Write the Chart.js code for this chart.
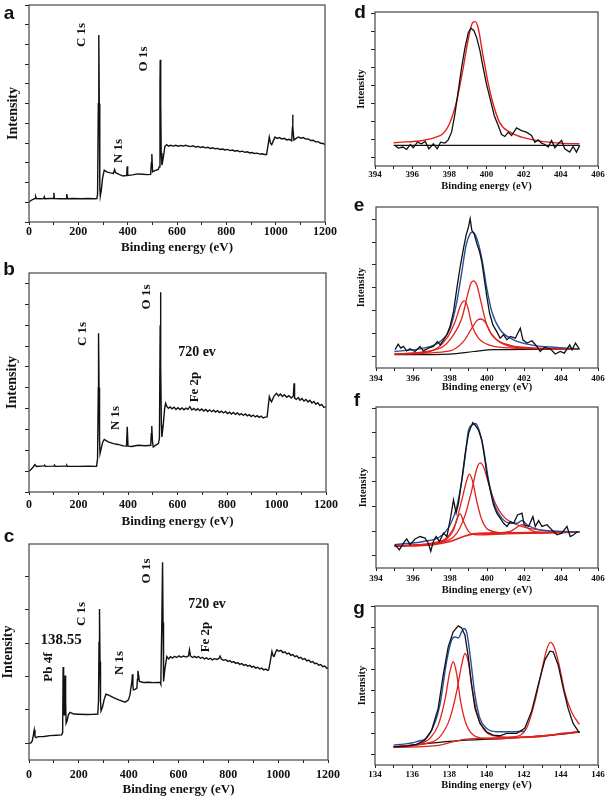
<!DOCTYPE html>
<html>
<head>
<meta charset="utf-8">
<script src="https://cdn.jsdelivr.net/npm/chart.js@4.4.0/dist/chart.umd.min.js"></script>
<style>
body { margin:0; background:#fff; width:609px; height:797px; position:relative; overflow:hidden; font-family:'Liberation Serif', serif; }
canvas { position:absolute; }
.t { position:absolute; font-weight:bold; color:#111; white-space:nowrap; line-height:1; transform:translate(-50%,-50%); }
.r { transform:translate(-50%,-50%) rotate(-90deg); font-size:13px; }
.h { font-size:14px; }
.p { font-family:'Liberation Sans', Arial, sans-serif; font-size:19px; }
</style>
</head>
<body>
<canvas id="ca" width="339" height="255" style="left:0px;top:0px"></canvas>
<canvas id="cb" width="343" height="267" style="left:0px;top:262px"></canvas>
<canvas id="cc" width="347" height="263" style="left:0px;top:534px"></canvas>
<canvas id="cd" width="260" height="189" style="left:348px;top:4px"></canvas>
<canvas id="ce" width="260" height="195" style="left:348px;top:199px"></canvas>
<canvas id="cf" width="260" height="198" style="left:348px;top:399px"></canvas>
<canvas id="cg" width="260" height="194" style="left:348px;top:598px"></canvas>

<!-- panel letters -->
<div class="t p" style="left:9px;top:12px">a</div>
<div class="t p" style="left:9px;top:268px">b</div>
<div class="t p" style="left:9px;top:535px">c</div>
<div class="t p" style="left:360px;top:11px">d</div>
<div class="t p" style="left:359px;top:204px">e</div>
<div class="t p" style="left:357px;top:399px">f</div>
<div class="t p" style="left:359px;top:607px">g</div>

<!-- peak labels, survey a -->
<div class="t r" style="left:80px;top:35px">C 1s</div>
<div class="t r" style="left:142px;top:59px">O 1s</div>
<div class="t r" style="left:117px;top:151px">N 1s</div>
<!-- survey b -->
<div class="t r" style="left:81px;top:334px">C 1s</div>
<div class="t r" style="left:145px;top:297px">O 1s</div>
<div class="t r" style="left:114px;top:418px">N 1s</div>
<div class="t h" style="left:197px;top:352px">720 ev</div>
<div class="t r" style="left:193px;top:387px">Fe 2p</div>
<!-- survey c -->
<div class="t r" style="left:80px;top:614px">C 1s</div>
<div class="t r" style="left:145px;top:571px">O 1s</div>
<div class="t r" style="left:118px;top:663px">N 1s</div>
<div class="t r" style="left:47px;top:667px">Pb 4f</div>
<div class="t h" style="left:61px;top:639px;font-size:15px">138.55</div>
<div class="t h" style="left:207px;top:604px">720 ev</div>
<div class="t r" style="left:204px;top:637px">Fe 2p</div>

<script>
// Survey spectra: [binding energy (eV), intensity (a.u.)]
const surveyA = [[0,10.1],[8,10.9],[18,11.6],[25,11.9],[27,12.9],[30,11.9],[45,11.8],[60,11.9],[62,12.8],[65,11.8],[85,11.9],[99,11.9],[101,14.8],[103,11.9],[125,11.8],[150,11.8],[153,14.2],[156,11.8],[180,11.9],[210,11.8],[240,11.9],[265,11.8],[275,11.9],[278,14],[281,60],[283,94.8],[285,60],[287,18],[289,13.1],[293,16],[298,22],[305,26.3],[315,25.4],[330,24.9],[342,24.6],[347,26.6],[351,25],[365,24.1],[382,23.3],[396,23.6],[398,28.3],[400,23.6],[420,23.9],[440,24.4],[460,24.2],[480,24.0],[493,24.1],[496,30],[498,34.5],[501,25.4],[510,26],[524,26.6],[528,28],[531,70],[532,82.2],[534,60],[536,35],[539,28.8],[545,33],[551,38.4],[558,39.2],[566,38.4],[575,38.9],[585,38.5],[595,38.9],[605,38.4],[615,38.8],[625,38.5],[635,38.9],[645,38.5],[655,38.2],[665,38.6],[675,38.0],[685,38.3],[695,37.8],[705,38.1],[715,37.6],[725,37.9],[735,37.3],[745,37.6],[755,37.1],[765,37.3],[775,36.8],[785,37.0],[795,36.5],[805,36.8],[815,36.2],[825,36.5],[835,35.9],[845,36.2],[855,35.6],[865,35.9],[875,35.3],[885,35.6],[895,35.0],[905,35.2],[915,34.7],[925,34.9],[935,34.4],[945,34.6],[955,34.2],[963,34.2],[968,38],[974,43.1],[979,40],[984,39.2],[990,41],[997,43.1],[1005,42.4],[1015,42.8],[1025,42.1],[1035,42.4],[1045,41.6],[1055,41.9],[1065,41.2],[1068,48],[1069,54.4],[1070,48],[1074,41.6],[1083,42.4],[1092,43.1],[1102,42.5],[1112,42.8],[1122,42.0],[1132,42.1],[1142,41.3],[1152,41.4],[1162,40.6],[1172,40.7],[1182,39.9],[1192,39.8],[1200,39.2]];

const surveyB = [[0,9.9],[10,11],[17,12.0],[24,13.1],[30,12.2],[60,12.5],[63,12.9],[66,12.3],[100,12.4],[103,12.9],[106,12.3],[150,12.4],[153,12.8],[156,12.3],[200,12.3],[240,12.4],[273,12.3],[277,16],[280,50],[281,76.1],[283,50],[285,25],[287,18.4],[292,21],[298,24],[304,25.2],[320,24],[341,23.2],[360,22.8],[381,22.1],[394,22],[397,31.3],[400,22],[415,21.8],[440,22.4],[470,22.2],[492,22.4],[494,28],[496,31.6],[499,24],[502,21.6],[512,22.5],[523,23.2],[527,26],[530,80],[531,95.8],[533,60],[535,32],[537,26.4],[543,33],[548,40],[552,42.5],[557,41],[563,40.1],[570,40.8],[578,39.9],[586,40.7],[594,39.6],[602,40.4],[610,39.5],[618,40.3],[626,39.4],[634,40.2],[642,39.6],[650,40.9],[658,39.3],[666,40.1],[674,39.2],[682,39.9],[690,39.0],[698,39.8],[706,38.8],[714,39.6],[722,38.6],[730,39.4],[738,38.5],[746,39.2],[754,38.3],[762,39.0],[770,38.1],[778,38.8],[786,37.9],[794,38.6],[802,37.6],[810,38.3],[818,37.4],[826,38.1],[834,37.2],[842,37.9],[850,37.0],[858,37.6],[866,36.7],[874,37.4],[882,36.5],[890,37.1],[898,36.2],[906,36.9],[914,36.0],[922,36.6],[930,35.8],[938,36.4],[946,35.5],[954,35.9],[962,36],[971,45.7],[976,44],[980,43.3],[990,46],[1000,47.3],[1008,46.1],[1016,47.0],[1024,45.8],[1032,46.6],[1041,45.4],[1050,46.2],[1060,45.1],[1068,46],[1071,52.1],[1073,45],[1080,44.4],[1088,45.3],[1095,44.0],[1103,44.8],[1111,43.6],[1119,44.4],[1127,43.2],[1135,44.0],[1143,42.7],[1151,43.4],[1159,42.1],[1167,42.8],[1175,41.4],[1183,42.0],[1191,40.6],[1200,40.8]];

const surveyC = [[0,8.5],[8,8.7],[13,9.7],[18,13],[21,15.3],[24,12],[28,11.4],[37,11.9],[60,12],[84,12.4],[110,12.6],[131,12.8],[135,14],[137,47.3],[139,35],[141,23],[143,30],[145,43],[147,30],[149,18.7],[153,20],[158,23],[165,24.3],[180,23.4],[200,23.3],[230,23.2],[260,23.3],[276,23.4],[279,30],[281,60],[283,76.9],[285,50],[287,30],[289,25],[295,27],[302,31],[309,33.5],[320,33],[339,31.8],[360,30.6],[386,29.4],[392,30],[399,30.6],[405,33],[413,40],[415,43.7],[417,38],[419,35.7],[426,36],[433,36.6],[435,41],[437,45.4],[440,43],[443,40],[460,39.5],[480,39.6],[500,39.4],[526,39.6],[529,38.6],[533,70],[536,100.7],[538,70],[540,40],[545,46],[553,52.7],[560,51.5],[568,52.6],[576,51.9],[584,52.8],[593,52.2],[602,53.0],[610,52.3],[620,52.9],[630,52.4],[640,53],[644,56.1],[648,53],[656,52.2],[664,52.8],[672,52.1],[680,52.7],[688,51.8],[696,52.3],[704,51.5],[712,52.0],[720,51.3],[728,51.8],[736,51.0],[744,51.6],[754,51.2],[762,51.7],[767,52.9],[772,51.4],[780,50.8],[790,51.1],[798,50.2],[806,50.6],[814,49.7],[822,50.1],[830,49.2],[838,49.6],[846,48.7],[854,49.1],[862,48.2],[870,48.6],[878,47.8],[886,48.2],[894,47.3],[902,47.7],[910,46.8],[918,47.2],[926,46.4],[934,46.8],[942,45.9],[950,46.3],[958,45.6],[962,45.9],[968,50],[975,55.3],[980,53],[984,52.8],[990,55],[995,56.1],[1003,55.4],[1011,55.8],[1019,54.7],[1027,55.1],[1035,54.0],[1043,54.4],[1051,53.3],[1059,53.7],[1067,52.6],[1075,53.0],[1083,51.9],[1091,52.3],[1099,51.2],[1107,51.6],[1115,50.5],[1123,50.9],[1131,49.8],[1139,50.1],[1147,49.0],[1155,49.3],[1163,48.3],[1171,48.6],[1179,47.5],[1187,47.8],[1195,46.7],[1200,46.9]];

// N 1s high resolution (d, e, f) and Pb 4f (g): [eV, intensity]
const n1sD = [[395.08,11.5],[395.25,10],[395.5,10.6],[395.7,9.3],[395.9,12],[396.06,10.2],[396.28,13.3],[396.5,12.4],[396.7,13.7],[396.9,9.6],[397.14,12.4],[397.35,9.6],[397.53,13.3],[397.76,12.8],[397.94,14.6],[398.12,18.9],[398.3,29],[398.48,42],[398.66,55],[398.84,66],[399.02,74.4],[399.16,76.9],[399.32,75.7],[399.47,71.7],[399.65,64.3],[399.82,55],[400,45.7],[400.22,36.5],[400.42,28.1],[400.63,22.6],[400.81,17.6],[400.99,16.5],[401.17,18.9],[401.35,17],[401.62,21.3],[401.88,19.8],[402.15,18.9],[402.42,17],[402.6,13.3],[402.78,14.6],[402.96,12.8],[403.14,12],[403.32,10.6],[403.5,14.3],[403.68,10.2],[403.86,12.4],[404.04,14.3],[404.21,9.6],[404.48,7.8],[404.66,10.9],[404.84,7.8],[405.02,11.5]];
const n1sDFit = [[395,13],[397.5,17],[398,23.5],[398.4,36.5],[398.75,55],[399,69.8],[399.25,80],[399.4,80.6],[399.55,77.2],[399.8,62.4],[400.1,45.7],[400.36,34.6],[400.7,24.4],[401.26,18.9],[401.9,16.1],[402.87,13.9],[403.95,12.8],[405,12.4]];
const n1sDBase = [[395,11.5],[405,11.5]];

const n1sE = [[395.03,8],[395.2,10.4],[395.34,8.7],[395.48,9.4],[395.66,7.5],[395.84,8.4],[396.11,7.2],[396.38,9.4],[396.56,7.5],[396.83,8.7],[397.1,9.4],[397.32,11.6],[397.47,10.1],[397.65,12.3],[397.83,14.5],[398,18.1],[398.19,24.6],[398.37,34.8],[398.55,44.2],[398.73,52.2],[398.87,58],[399,61.6],[399.09,65.2],[399.18,60.1],[399.32,58.3],[399.45,54.3],[399.6,50.7],[399.72,46.4],[399.85,39.1],[399.99,31.2],[400.14,23.9],[400.32,18.8],[400.53,15.9],[400.71,13],[400.9,14.5],[401.08,12.3],[401.26,13.8],[401.53,13],[401.8,17.4],[401.94,12.3],[402.16,10.9],[402.43,11.9],[402.7,9.4],[402.88,7.2],[403.1,9],[403.42,8.4],[403.69,6.1],[403.96,7.2],[404.18,6.5],[404.47,10.1],[404.6,8],[404.78,10.9],[404.96,8.7]];
const n1sEEnv = [[395,7.2],[396.56,8.7],[397.47,11.6],[398.01,17.4],[398.37,29],[398.64,42],[398.87,53.6],[399.09,58.7],[399.23,59.4],[399.45,56.5],[399.72,47.8],[399.99,34.8],[400.26,24.6],[400.71,16.7],[401.44,12.3],[402.52,9.9],[403.78,9],[405,8.4]];
const n1sEPeak1 = [[395,6.1],[396.92,7.2],[397.83,13],[398.28,20.3],[398.58,27.5],[398.77,29.3],[398.95,26.8],[399.18,18.8],[399.54,13],[400.17,9.9],[401.44,8.7],[405,8.3]];
const n1sEPeak2 = [[395,6.1],[397.47,8.7],[398.19,14.5],[398.64,21.7],[398.95,31.9],[399.13,37],[399.27,38],[399.45,36.2],[399.67,29],[399.99,18.8],[400.44,13],[401.26,9.9],[402.88,8.7],[405,8.3]];
const n1sEPeak3 = [[395,6.1],[398.01,7.5],[398.73,11.6],[399.18,17.4],[399.49,21],[399.69,21.4],[399.9,20],[400.26,14.5],[400.9,10.4],[401.98,8.7],[405,8.3]];
const n1sEBase = [[395,5.8],[398,6.1],[399.27,7.2],[400.35,8],[405,8.3]];

const n1sF = [[395.03,9.5],[395.26,7.4],[395.48,10.1],[395.66,11.8],[395.84,9.5],[396.11,11.8],[396.38,12.8],[396.65,12.2],[396.83,10.1],[396.96,6.8],[397.1,10.8],[397.25,12.8],[397.43,10.8],[397.65,14.2],[397.83,12.8],[398.04,20.9],[398.19,27.7],[398.33,22.3],[398.46,26.4],[398.64,35.8],[398.82,46.6],[399,54.7],[399.13,57.4],[399.23,59.1],[399.36,58.1],[399.54,56.1],[399.72,52],[399.85,45.9],[399.99,38.5],[400.17,31.8],[400.35,25.7],[400.53,22.3],[400.71,20.3],[400.9,18.2],[401.08,16.9],[401.26,18.9],[401.44,18.2],[401.65,21.6],[401.89,22.3],[402.01,17.6],[402.25,16.9],[402.48,20.9],[402.61,16.9],[402.79,19.3],[402.97,16.9],[403.24,17.6],[403.51,15.5],[403.78,13.5],[404.05,14.2],[404.32,16.9],[404.5,12.8],[404.69,13.5],[404.9,14.9]];
const n1sFEnv = [[395,9.5],[396.56,10.8],[397.47,12.8],[398.01,17.6],[398.37,25],[398.64,35.8],[398.82,45.3],[399,56.1],[399.18,58.1],[399.36,58.8],[399.54,56.8],[399.81,48.6],[400.08,35.8],[400.44,25],[400.8,20.3],[401.26,18.2],[401.62,18.2],[401.89,19.3],[402.16,17.6],[402.7,15.8],[403.78,14.9],[405,14.6]];
const n1sFPeak1 = [[395,9],[397.47,10.4],[398.19,15.5],[398.4,20.3],[398.55,22],[398.73,18.9],[399,14.9],[399.45,13.5],[401.08,13.9],[405,14.6]];
const n1sFPeak2 = [[395,9],[397.47,10.8],[398.28,17.6],[398.64,27.7],[398.91,35.8],[399.05,38.2],[399.23,35.1],[399.45,27],[399.72,19.6],[400.08,15.5],[401.08,14.2],[405,14.6]];
const n1sFPeak3 = [[395,9],[397.47,10.4],[398.37,14.2],[398.82,21.6],[399.18,31.8],[399.45,40.5],[399.63,42.8],[399.81,41.2],[400.08,34.5],[400.44,26.4],[400.9,20.9],[401.62,17.6],[402.52,15.8],[405,14.6]];
const n1sFPeak4 = [[400.17,14.2],[401.26,14.9],[401.62,16.6],[401.89,17.6],[402.12,16.6],[402.52,14.9],[403.24,14.5],[405,14.6]];
const n1sFBase = [[395,8.8],[397.1,9.5],[398.01,10.8],[398.73,12.8],[399.27,13.9],[400.17,14.2],[405,14.6]];

const pb4f = [[135,8.6],[135.7,8.9],[136.24,9.7],[136.69,11.8],[137.05,16.5],[137.4,26.7],[137.67,42.4],[137.94,55.7],[138.21,62.8],[138.48,65.6],[138.66,64.7],[138.84,61.2],[139.02,51],[139.2,37.7],[139.38,26.7],[139.65,19.6],[140,15.7],[140.36,14.1],[140.72,13.8],[141.08,14.9],[141.62,14.9],[142.06,17.3],[142.42,25.1],[142.78,37.7],[143.14,49.5],[143.41,53.7],[143.59,53.4],[143.86,47.1],[144.13,36.1],[144.39,26.7],[144.66,19.6],[145,15.2]];
const pb4fEnv = [[135,9.4],[136.24,11],[136.96,14.9],[137.49,28.3],[137.85,48.7],[138.12,58.9],[138.3,60.4],[138.48,59.9],[138.66,62.8],[138.78,64.4],[138.93,62.8],[139.14,50.2],[139.38,33],[139.65,22],[140,17.3],[140.54,15.7],[141.26,15.7],[142.06,15.9]];
const pb4fPeak1 = [[135,8.6],[136.24,9.7],[136.96,12.6],[137.4,18.8],[137.76,30.6],[138.03,44],[138.21,48.7],[138.39,43.2],[138.61,29.8],[138.93,18.8],[139.47,13.3],[140.36,12.3],[141.8,13],[143.5,14.2],[145,15.7]];
const pb4fPeak2 = [[135,8.6],[136.78,10.2],[137.49,13.3],[138.03,22],[138.39,34.5],[138.66,47.1],[138.84,52.6],[139.02,48.7],[139.2,37.7],[139.47,25.1],[139.82,17.3],[140.36,13.8],[141.44,13],[143.5,14.2],[145,15.7]];
const pb4fPeak3 = [[139.82,12.5],[141.44,13.3],[142.15,17.3],[142.6,29.8],[142.96,44],[143.23,54.2],[143.44,57.8],[143.67,55],[143.95,45.5],[144.21,34.5],[144.57,25.1],[145,19.2]];
const pb4fBaseRed = [[135,8.3],[137.5,9.4],[138.21,11],[138.93,12.2],[141.08,12.9],[142.87,13.3],[143.77,14.6],[145,15.7]];
const pb4fBaseBlack = [[135,8.6],[138.21,11.3],[141.08,12.6],[143.59,14.1],[145,15.5]];

const BLACK = '#111111';
const RED = '#e3211c';
const BLUE = '#24509e';

Chart.defaults.font.family = "'Liberation Serif', serif";
Chart.defaults.color = '#111';

// frame around the plot area
const boxPlugin = {
	id: 'box',
	afterDraw(chart) {
		const a = chart.chartArea, ctx = chart.ctx;
		ctx.save();
		ctx.strokeStyle = '#444';
		ctx.lineWidth = 1.2;
		ctx.strokeRect(a.left, a.top, a.right - a.left, a.bottom - a.top);
		ctx.restore();
	}
};

function line(data, color, width, smooth) {
	return {
		data: data,
		borderColor: color,
		borderWidth: width,
		pointRadius: 0,
		fill: false,
		tension: 0,
		cubicInterpolationMode: smooth ? 'monotone' : 'default'
	};
}

function makePanel(id, datasets, o) {
	new Chart(document.getElementById(id), {
		type: 'line',
		data: { datasets: datasets },
		options: {
			responsive: false,
			animation: false,
			devicePixelRatio: 1,
			layout: { padding: { top: o.padTop, right: o.padRight, left: 0, bottom: 0 } },
			plugins: { legend: { display: false }, tooltip: { enabled: false } },
			scales: {
				x: {
					type: 'linear',
					min: o.xMin,
					max: o.xMax,
					border: { display: false },
					grid: { drawOnChartArea: false, tickLength: 3, color: '#222' },
					ticks: {
						stepSize: o.xStep,
						autoSkip: false,
						maxRotation: 0,
						padding: o.tickPad,
						color: '#111',
						font: { size: o.tickSize, weight: 'bold' },
						callback: v => (v % o.labelEvery === 0 ? v : '')
					},
					title: {
						display: true,
						text: 'Binding energy (eV)',
						color: '#111',
						font: { size: o.titleSize, weight: 'bold' },
						padding: { top: 0, bottom: 0 }
					},
					afterFit: s => { s.height = o.xh; }
				},
				y: {
					min: 0,
					max: o.yMax,
					border: { display: false },
					grid: { drawOnChartArea: false, tickLength: 4, color: '#222', lineWidth: 1 },
					ticks: { display: false, autoSkip: false },
					afterBuildTicks: s => {
						const t = [];
						for (let v = o.yStart; v <= o.yMax + 0.01; v += o.yStep) t.push({ value: v });
						s.ticks = t;
					},
					title: {
						display: true,
						text: 'Intensity',
						color: '#111',
						font: { size: o.yTitleSize, weight: 'bold' },
						padding: { top: o.yTitlePad, bottom: 0 }
					},
					afterFit: s => { s.width = o.yw; }
				}
			}
		},
		plugins: [boxPlugin]
	});
}

const surveyOpts = { xMin: 0, xMax: 1200, xStep: 100, labelEvery: 200, tickSize: 12, titleSize: 13, yTitleSize: 14, yw: 29 };
const hrOpts = { xStep: 1, labelEvery: 2, tickSize: 9, titleSize: 10.5, yTitleSize: 10.5, padTop: 8, padRight: 10, yStart: 5, yStep: 10 };

makePanel('ca', [line(surveyA, BLACK, 1.4)],
	Object.assign({}, surveyOpts, { padTop: 5, padRight: 14, xh: 33, tickPad: 0, yTitlePad: 5, yMax: 110, yStart: 0, yStep: 10 }));
makePanel('cb', [line(surveyB, BLACK, 1.4)],
	Object.assign({}, surveyOpts, { padTop: 11, padRight: 17, xh: 37, tickPad: 3, yTitlePad: 4, yMax: 105, yStart: 0, yStep: 10 }));
makePanel('cc', [line(surveyC, BLACK, 1.4)],
	Object.assign({}, surveyOpts, { padTop: 10, padRight: 19, xh: 37, tickPad: 5, yTitlePad: 0, yMax: 110, yStart: 8.5, yStep: 17 }));

makePanel('cd', [line(n1sD, BLACK, 1.3), line(n1sDFit, RED, 1.4, true), line(n1sDBase, BLACK, 1.2)],
	Object.assign({}, hrOpts, { xMin: 394, xMax: 406, yw: 27, xh: 27, tickPad: 0, yTitlePad: 7, yMax: 86 }));
makePanel('ce', [line(n1sE, BLACK, 1.3), line(n1sEEnv, BLUE, 1.4, true), line(n1sEPeak1, RED, 1.3, true), line(n1sEPeak2, RED, 1.3, true), line(n1sEPeak3, RED, 1.3, true), line(n1sEBase, BLACK, 1.2, true)],
	Object.assign({}, hrOpts, { xMin: 394, xMax: 406, yw: 28, xh: 26, tickPad: 2, yTitlePad: 7, yMax: 70.3 }));
makePanel('cf', [line(n1sF, BLACK, 1.3), line(n1sFEnv, BLUE, 1.4, true), line(n1sFPeak1, RED, 1.3, true), line(n1sFPeak2, RED, 1.3, true), line(n1sFPeak3, RED, 1.3, true), line(n1sFPeak4, RED, 1.3, true), line(n1sFBase, RED, 1.6, true)],
	Object.assign({}, hrOpts, { xMin: 394, xMax: 406, yw: 28, xh: 29, tickPad: 2, yTitlePad: 9, yMax: 65.5 }));
makePanel('cg', [line(pb4f, BLACK, 1.3), line(pb4fEnv, BLUE, 1.4, true), line(pb4fPeak1, RED, 1.3, true), line(pb4fPeak2, RED, 1.3, true), line(pb4fPeak3, RED, 1.3, true), line(pb4fBaseRed, RED, 1.3, true), line(pb4fBaseBlack, BLACK, 1.2, true)],
	Object.assign({}, hrOpts, { xMin: 134, xMax: 146, yw: 27, xh: 27, tickPad: 1, yTitlePad: 8, yMax: 75 }));
</script>
</body>
</html>
